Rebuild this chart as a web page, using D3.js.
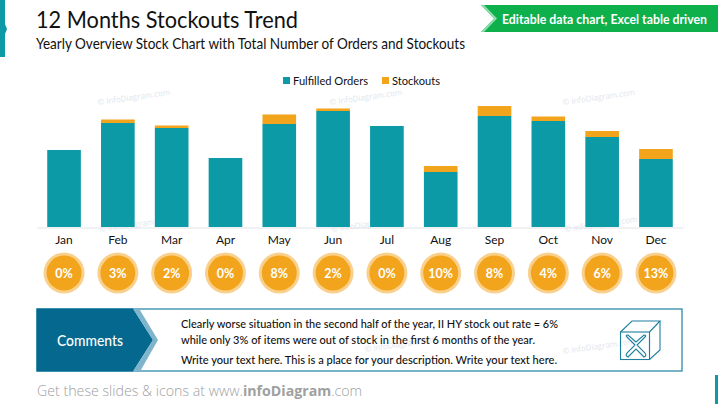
<!DOCTYPE html>
<html lang="en">
<head>
<meta charset="UTF-8">
<title>12 Months Stockouts Trend</title>
<script src="https://d3js.org/d3.v7.min.js"></script>
<style>
    html, body { margin: 0; padding: 0; background: #fff; }
    svg { display: block; }
    text { font-family: Lato, "Open Sans", sans-serif; fill: #111; }
    .wm { font-size: 8px; fill: #e1e6ed; font-family: "Open Sans", sans-serif; }
</style>
</head>
<body>
<div id="chart"></div>
<script>
// values
const months = ['Jan', 'Feb', 'Mar', 'Apr', 'May', 'Jun', 'Jul', 'Aug', 'Sep', 'Oct', 'Nov', 'Dec'];
const fulfilled = [77, 104, 99, 69, 103, 116, 101, 55, 111, 106, 90, 68];
const stockouts = [0, 3.5, 2.5, 0, 9.5, 2.5, 0, 6, 10, 4.5, 6, 10];
const rates = ['0%', '3%', '2%', '0%', '8%', '2%', '0%', '10%', '8%', '4%', '6%', '13%'];
const seriesNames = ['Fulfilled Orders', 'Stockouts'];
const seriesColors = ['#0B9AA6', '#F2A51C'];
const commentLines = [
    'Clearly worse situation in the second half of the year, II HY stock out rate = 6%',
    'while only 3% of items were out of stock in the first 6 months of the year.',
    'Write your text here. This is a place for your description. Write your text here.'
];

const width = 718, height = 404;
const svg = d3.select('#chart').append('svg')
    .attr('width', width)
    .attr('height', height);

const line = d3.line();

// Lato runs wider than the slide font, squeeze to the measured width
function squeeze(sel, len) {
    return sel.attr('textLength', len).attr('lengthAdjust', 'spacingAndGlyphs');
}

// watermarks go under everything
const marks = [[98, 105], [330, 105], [563, 105], [100, 232], [332, 232], [565, 232], [365, 352], [563, 354]];
svg.append('g').selectAll('text')
    .data(marks)
    .enter().append('text')
    .attr('class', 'wm')
    .attr('transform', d => `translate(${d[0]},${d[1]}) rotate(-8)`)
    .text('© infoDiagram.com');

// slide decoration, left and bottom right
svg.append('path')
    .attr('d', line([[0, 0], [5, 0], [5, 24], [7, 29], [5, 34], [5, 57], [0, 57]]) + 'Z')
    .attr('fill', '#0B9AA6');
svg.append('rect')
    .attr('x', 715).attr('y', 375).attr('width', 3).attr('height', 29)
    .attr('fill', '#0B9AA6');

// title
squeeze(svg.append('text').attr('x', 36).attr('y', 28)
    .style('font-size', '24px')
    .text('12 Months Stockouts Trend'), 262);
squeeze(svg.append('text').attr('x', 36).attr('y', 48.5)
    .style('font-size', '15px')
    .text('Yearly Overview Stock Chart with Total Number of Orders and Stockouts'), 429);

// green banner
svg.append('path')
    .attr('d', line([[481, 5], [718, 5], [718, 32], [481, 32], [494, 18.5]]) + 'Z')
    .attr('fill', '#0DB04B');
svg.append('path')
    .attr('d', line([[481, 5], [484, 5], [497, 18.5], [484, 32], [481, 32], [494, 18.5]]) + 'Z')
    .attr('fill', '#8FDDAE');
squeeze(svg.append('text').attr('x', 502).attr('y', 23.5)
    .style('font-size', '12.3px')
    .style('font-weight', 700)
    .style('fill', '#fff')
    .text('Editable data chart, Excel table driven'), 205);

// scales
const x = d3.scaleBand().domain(months).range([37, 683]).paddingInner(0.375).paddingOuter(0.19);
const y = d3.scaleLinear().domain([0, 130]).range([227, 97]);

// stacked bars
const rows = months.map((m, i) => ({ month: m, fulfilled: fulfilled[i], stockouts: stockouts[i] }));
const stacked = d3.stack().keys(['fulfilled', 'stockouts'])(rows);
svg.append('g').selectAll('g')
    .data(stacked)
    .enter().append('g')
    .attr('fill', (d, i) => seriesColors[i])
    .selectAll('rect')
    .data(d => d)
    .enter().append('rect')
    .attr('x', d => x(d.data.month))
    .attr('y', d => y(d[1]))
    .attr('width', x.bandwidth())
    .attr('height', d => y(d[0]) - y(d[1]));

// month axis
const axis = svg.append('g')
    .attr('transform', 'translate(0,227.5)')
    .call(d3.axisBottom(x).tickSize(0).tickPadding(8));
axis.select('.domain').attr('stroke', '#dfe3e8');
axis.selectAll('text')
    .style('font-family', 'Lato')
    .style('font-size', '12px')
    .style('fill', '#111');

// legend
const legendX = [283, 382];
const legendLen = [75, 48];
const legend = svg.append('g').selectAll('g')
    .data(seriesNames)
    .enter().append('g')
    .attr('transform', (d, i) => `translate(${legendX[i]},77)`);
legend.append('rect')
    .attr('width', 7).attr('height', 7)
    .attr('fill', (d, i) => seriesColors[i]);
squeeze(legend.append('text')
    .attr('x', 10).attr('y', 8)
    .style('font-size', '12px')
    .text(d => d), (d, i) => legendLen[i]);

// rate badges
const badge = svg.append('g').selectAll('g')
    .data(rates)
    .enter().append('g')
    .attr('transform', (d, i) => `translate(${x(months[i]) + x.bandwidth() / 2},273)`);
badge.append('circle').attr('r', 20.5).attr('fill', '#F9D08C');
badge.append('circle').attr('r', 17.5).attr('fill', '#F2A51C');
badge.append('text')
    .attr('text-anchor', 'middle')
    .attr('y', 4.5)
    .style('font-size', '12.5px')
    .style('font-weight', 700)
    .style('fill', '#fff')
    .text(d => d);

// comments box
svg.append('rect')
    .attr('x', 37).attr('y', 309).attr('width', 645).attr('height', 62)
    .attr('fill', 'none')
    .attr('stroke', '#1F7FA3')
    .attr('stroke-width', 1.2);
svg.append('path')
    .attr('d', line([[36.5, 308.5], [133, 308.5], [153, 340], [133, 371.5], [36.5, 371.5]]) + 'Z')
    .attr('fill', '#04688F');
svg.append('path')
    .attr('d', line([[133, 308.5], [139, 308.5], [158, 340], [140, 371.5], [133, 371.5], [153, 340]]) + 'Z')
    .attr('fill', '#7FB5CC');
squeeze(svg.append('text').attr('x', 57).attr('y', 346)
    .style('font-size', '14.5px')
    .style('font-weight', 500)
    .style('fill', '#fff')
    .text('Comments'), 66);

const commentY = [328, 344, 364];
const commentLen = [377, 354, 376];
squeeze(svg.append('g').selectAll('text')
    .data(commentLines)
    .enter().append('text')
    .attr('x', 181)
    .attr('y', (d, i) => commentY[i])
    .style('font-size', '12px')
    .style('font-weight', 500)
    .text(d => d), (d, i) => commentLen[i]);

// cube icon
const icon = svg.append('g')
    .attr('fill', 'none')
    .attr('stroke', '#1F7F9F')
    .attr('stroke-width', 1.1);
icon.append('rect').attr('x', 620.5).attr('y', 332).attr('width', 29).attr('height', 27.5);
icon.append('path').attr('d', line([[620.5, 332], [632, 321], [660, 321], [649.5, 332]]));
icon.append('path').attr('d', line([[660, 321], [660, 350], [649.5, 359.5]]));
icon.append('path').attr('d', line([[649.5, 337], [649.5, 352]]));
icon.append('path').attr('d', 'M627 337 L635 345 L627 353 Q625 356 628 357 L636 349 L644 357 Q647 356 645 353 L637 345 L645 337 Q647 335 644 335 L636 342 L628 335 Q625 335 627 337Z');

// footer
svg.append('text').attr('x', 37).attr('y', 396)
    .style('font-family', '"Open Sans", sans-serif')
    .style('font-size', '14.2px')
    .style('font-weight', 300)
    .style('fill', '#a0a0a0')
    .html('Get these slides &amp; icons at www.<tspan style="font-weight:700">infoDiagram</tspan>.com');
</script>
</body>
</html>
